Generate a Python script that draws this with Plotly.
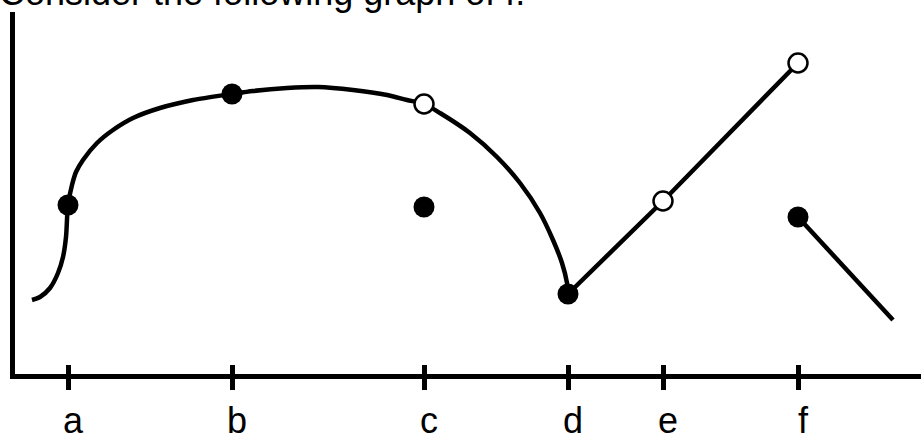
import plotly.graph_objects as go

# Horizontal positions of the labelled x values and their names
tick_x = [0.68, 2.32, 4.24, 5.68, 6.63, 7.98]
tick_text = ["a", "b", "c", "d", "e", "f"]

# Smooth piece of f: from the left end up through a, b, over the hump, down to d
curve_x = [0.32, 0.40, 0.50, 0.58, 0.63, 0.66, 0.68, 0.72, 0.76, 0.83, 0.97, 1.13,
           1.33, 1.60, 1.93, 2.32, 2.53, 2.87, 3.18, 3.53, 3.87, 4.07, 4.24,
           4.40, 4.70, 4.97, 5.20, 5.40, 5.53, 5.62, 5.67, 5.68]
curve_y = [0.76, 0.79, 0.88, 1.03, 1.19, 1.39, 1.71, 1.91, 2.04, 2.16, 2.33, 2.46,
           2.58, 2.68, 2.76, 2.82, 2.85, 2.88, 2.89, 2.86, 2.81, 2.76, 2.72,
           2.63, 2.43, 2.19, 1.93, 1.63, 1.36, 1.13, 0.93, 0.82]

# Straight piece from d up through e to the open end above f
rise_x = [5.68, 6.63, 7.98]
rise_y = [0.82, 1.75, 3.13]

# Last straight piece starting at the filled point above f
fall_x = [7.98, 8.93]
fall_y = [1.59, 0.56]

# Filled (included) points
closed_x = [0.68, 2.32, 4.24, 5.68, 7.98]
closed_y = [1.71, 2.82, 1.69, 0.82, 1.59]

# Open (excluded) points
open_x = [4.24, 6.63, 7.98]
open_y = [2.72, 1.75, 3.13]

title_text = "Consider the following graph of f."

W, H = 921, 436
ML, MB, MT = 15, 62, 12

fig = go.Figure()

line_style = dict(color="black", width=4.5)
fig.add_trace(go.Scatter(x=curve_x, y=curve_y, mode="lines",
                         line=dict(shape="spline", smoothing=0.8, **line_style)))
fig.add_trace(go.Scatter(x=rise_x, y=rise_y, mode="lines", line=line_style))
fig.add_trace(go.Scatter(x=fall_x, y=fall_y, mode="lines", line=line_style))

# Points are drawn on the overlaid axis so they sit above every line
fig.add_trace(go.Scatter(x=closed_x, y=closed_y, mode="markers", xaxis="x2",
                         marker=dict(size=21, color="black", line=dict(width=0))))
fig.add_trace(go.Scatter(x=open_x, y=open_y, mode="markers", xaxis="x2",
                         marker=dict(size=19, color="white",
                                     line=dict(width=2.5, color="black"))))

x_range = [ML / 100, W / 100]
y_range = [(376 - (H - MB)) / 100, (376 - MT) / 100]

fig.update_layout(
    template="none",
    width=W, height=H,
    margin=dict(l=ML, r=0, t=MT, b=MB, pad=0),
    paper_bgcolor="white", plot_bgcolor="white",
    showlegend=False,
    font=dict(family="Liberation Sans, Arial, sans-serif", color="black"),
    xaxis=dict(range=x_range, showgrid=False, zeroline=False, automargin=False,
               showline=True, linewidth=4.5, linecolor="black",
               tickmode="array", tickvals=tick_x, ticktext=tick_text,
               ticks="outside", ticklen=11, tickwidth=4.5, tickcolor="black",
               tickfont=dict(size=36, color="black"),
               ticklabelshift=5, ticklabelstandoff=0),
    xaxis2=dict(range=x_range, overlaying="x", anchor="y", side="bottom",
                showgrid=False, zeroline=False, showline=False, automargin=False,
                tickmode="array", tickvals=tick_x,
                ticks="inside", ticklen=9, tickwidth=4.5, tickcolor="black",
                showticklabels=False),
    yaxis=dict(range=y_range, showgrid=False, zeroline=False, automargin=False,
               showline=True, linewidth=4.5, linecolor="black",
               showticklabels=False, ticks=""),
    annotations=[dict(text=title_text, xref="paper", yref="paper",
                      x=0, y=1, xanchor="left", yanchor="middle",
                      xshift=-ML - 3, yshift=MT + 8,
                      showarrow=False, font=dict(size=36, color="black"))],
)

fig.write_html("out.html")
